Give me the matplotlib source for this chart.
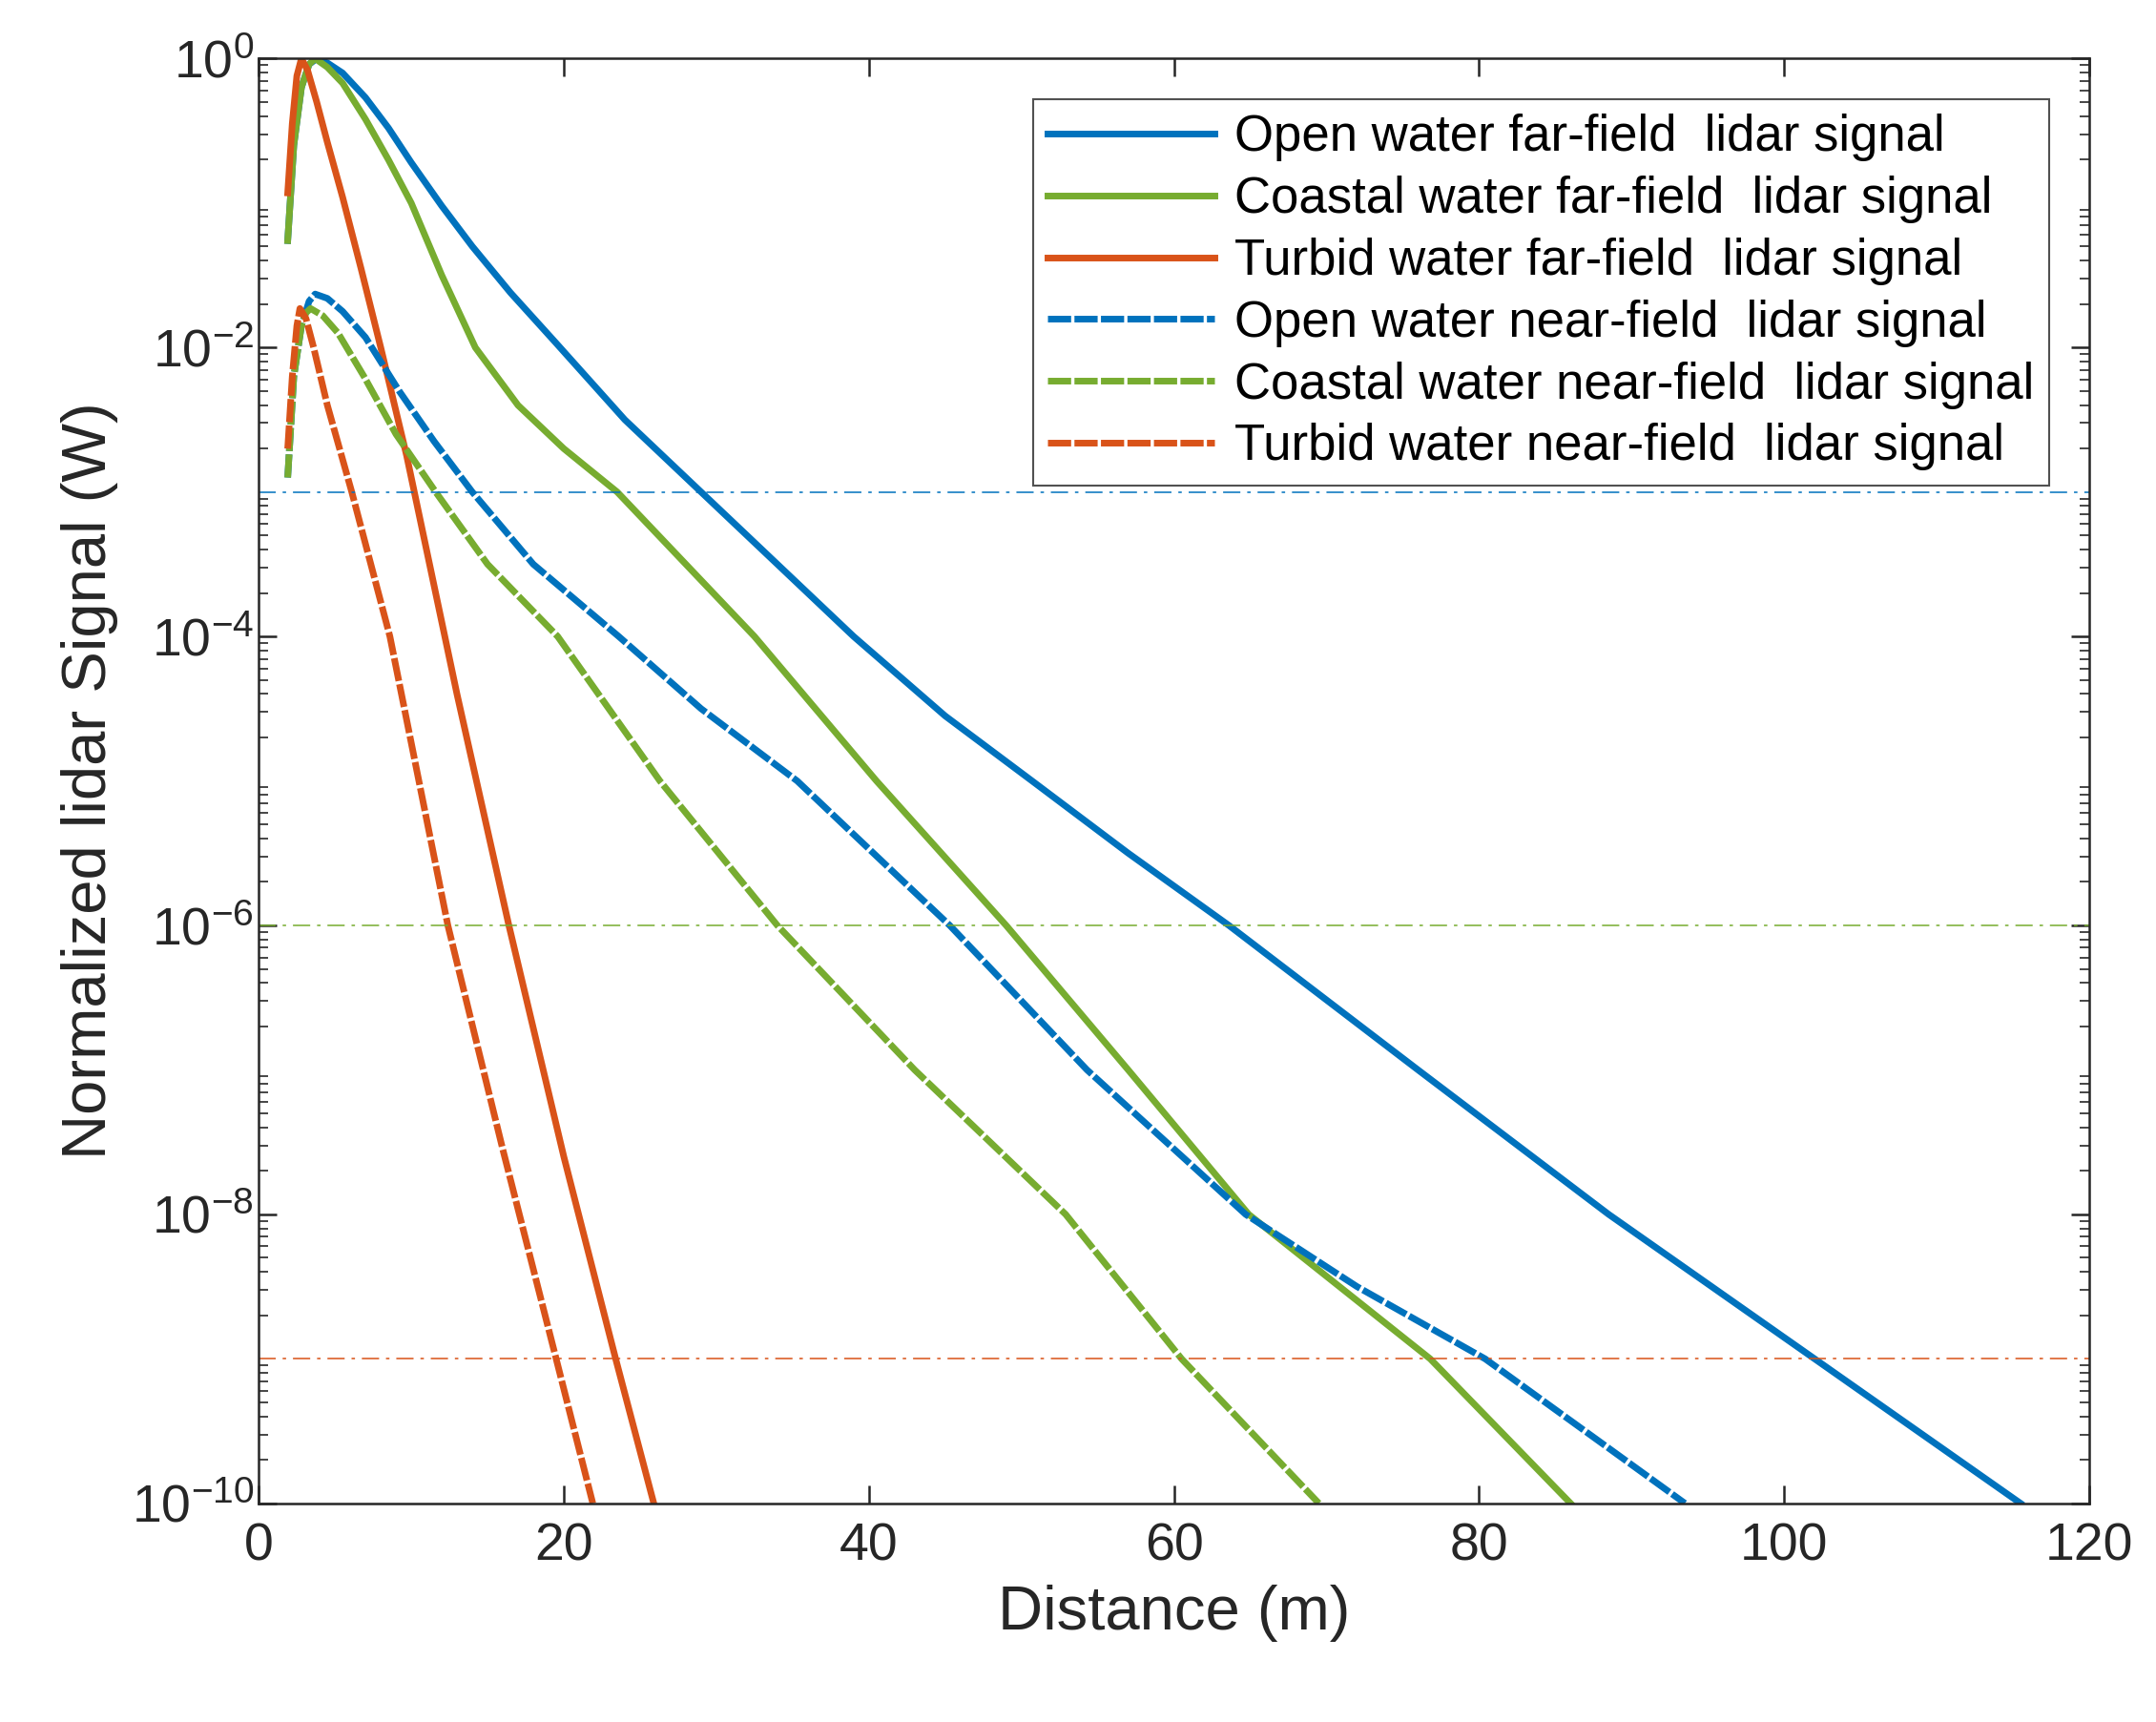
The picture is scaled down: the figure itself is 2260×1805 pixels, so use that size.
import matplotlib

matplotlib.use("Agg")
import matplotlib.pyplot as plt
import numpy as np
from matplotlib.ticker import LogLocator, NullFormatter

BLUE, GREEN, RED = "#0072BD", "#77AC30", "#D95319"

# distances (m) and log10 of normalized signal
open_far_x = [1.9, 2.3, 2.8, 3.3, 3.8, 4.5, 5.5, 7, 8.5, 10, 12, 14, 16.5, 19.5, 24, 29, 34, 39, 45, 50.7, 57, 63.6, 76, 88.5, 102, 115.5]
open_far_y = [-1.26, -0.6, -0.2, -0.04, 0, -0.03, -0.1, -0.27, -0.48, -0.72, -1.02, -1.3, -1.62, -1.97, -2.5, -3.0, -3.5, -4.0, -4.55, -5.0, -5.5, -6.0, -7.0, -8.0, -9.0, -10.0]
coast_far_x = [1.9, 2.3, 2.8, 3.3, 3.7, 4.5, 5.5, 7, 8.5, 10, 12, 14.2, 17, 20, 23.5, 28, 32.5, 40.5, 49, 57, 64.9, 76.8, 86]
coast_far_y = [-1.26, -0.6, -0.2, -0.04, 0, -0.06, -0.17, -0.42, -0.7, -1.0, -1.5, -2.0, -2.4, -2.7, -3.0, -3.5, -4.0, -5.0, -6.0, -7.0, -8.0, -9.0, -10.0]
turb_far_x = [1.9, 2.2, 2.5, 2.8, 3.2, 3.8, 4.5, 5.5, 6.7, 8, 9.7, 13, 16.4, 20, 23.4, 25.9]
turb_far_y = [-0.93, -0.45, -0.12, 0, -0.08, -0.3, -0.58, -0.96, -1.45, -2.0, -2.75, -4.4, -6.0, -7.6, -9.0, -10.0]
open_near_x = [1.9, 2.3, 2.8, 3.3, 3.7, 4.5, 5.5, 7, 9.2, 11.5, 14, 18, 23.6, 29, 35.3, 45.3, 54.3, 64.7, 72, 80.4, 93.5]
open_near_y = [-2.9, -2.2, -1.85, -1.68, -1.63, -1.66, -1.75, -1.93, -2.3, -2.65, -3.0, -3.5, -4.0, -4.5, -5.0, -6.0, -7.0, -8.0, -8.5, -9.0, -10.0]
coast_near_x = [1.9, 2.3, 2.8, 3.1, 3.4, 4.2, 5.2, 6.9, 9, 11.6, 15, 19.6, 26.3, 34, 43, 52.9, 60.5, 69.5]
coast_near_y = [-2.9, -2.2, -1.85, -1.76, -1.73, -1.78, -1.9, -2.2, -2.6, -3.0, -3.5, -4.0, -5.0, -6.0, -7.0, -8.0, -9.0, -10.0]
turb_near_x = [1.9, 2.2, 2.5, 2.7, 3.1, 3.6, 4.5, 6.1, 8.6, 10.5, 12.4, 16, 19.5, 21.9]
turb_near_y = [-2.7, -2.2, -1.85, -1.73, -1.8, -2.0, -2.4, -3.0, -4.0, -5.0, -6.0, -7.55, -9.0, -10.0]
thresholds = [1e-3, 1e-6, 1e-9]

plt.rcParams.update({"font.family": "Liberation Sans", "xtick.direction": "in",
                     "ytick.direction": "in"})
fig = plt.figure(figsize=(22.6, 18.05), dpi=100)
ax = fig.add_axes([0.12, 0.127, 0.849, 0.839])

lw = 5
series = [
    (open_far_x, open_far_y, BLUE, "-", "Open water far-field  lidar signal"),
    (coast_far_x, coast_far_y, GREEN, "-", "Coastal water far-field  lidar signal"),
    (turb_far_x, turb_far_y, RED, "-", "Turbid water far-field  lidar signal"),
    (open_near_x, open_near_y, BLUE, "--", "Open water near-field  lidar signal"),
    (coast_near_x, coast_near_y, GREEN, "--", "Coastal water near-field  lidar signal"),
    (turb_near_x, turb_near_y, RED, "--", "Turbid water near-field  lidar signal"),
]
for xs, ys, c, ls, lab in series:
    line, = ax.plot(xs, 10.0 ** np.array(ys), color=c, lw=lw, ls=ls, label=lab,
                    solid_joinstyle="round", dash_joinstyle="round")
    if ls == "--":
        line.set_dashes((3.5, 0.5))

for t, c in zip(thresholds, [BLUE, GREEN, RED]):
    ax.axhline(t, color=c, lw=1.3, ls=(0, (10, 4, 2, 4)), alpha=0.85)

ax.set_yscale("log")
ax.set_xlim(0, 120)
ax.set_ylim(1e-10, 1)
ax.set_xticks(range(0, 121, 20))
ax.set_yticks([10.0 ** k for k in range(-10, 1, 2)])
ax.yaxis.set_minor_locator(LogLocator(base=10, subs=np.arange(2, 10), numticks=20))
ax.yaxis.set_minor_formatter(NullFormatter())
ax.tick_params(which="both", top=True, right=True, labelsize=40, width=1.8,
               color="#262626", labelcolor="#262626")
ax.tick_params(axis="x", pad=14)
ax.tick_params(which="major", length=14)
ax.tick_params(which="minor", length=7, width=1.2)
for s in ax.spines.values():
    s.set_linewidth(1.8)
    s.set_color("#262626")
ax.set_xlabel("Distance (m)", fontsize=47, color="#262626", labelpad=10)
ax.set_ylabel("Normalized lidar Signal (W)", fontsize=47, color="#262626", labelpad=10)

leg = ax.legend(loc="upper right", fontsize=38, fancybox=False, edgecolor="#262626",
                handlelength=3.3, borderaxespad=0.8, labelspacing=0.28,
                borderpad=0.3, handletextpad=0.4)
leg.get_frame().set_linewidth(1.5)

fig.savefig("out.png", dpi=100)
